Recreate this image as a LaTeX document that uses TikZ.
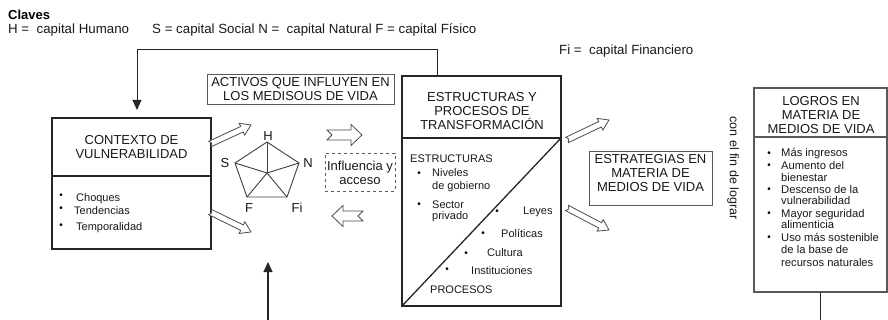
\documentclass[tikz,border=0pt]{standalone}
\usepackage{fontspec}
\setmainfont{Liberation Sans}
\usetikzlibrary{calc,arrows.meta}
\tikzset{
  box/.style={draw=black!85, line width=1.6pt, anchor=north west, inner sep=0pt, outer sep=0pt},
  thinbox/.style={draw=black!65, line width=0.9pt, anchor=north west, inner sep=0pt, outer sep=0pt},
  ttl/.style={font=\fontsize{13}{13.8}\selectfont, align=center, text=black!90, inner sep=0pt},
  key/.style={font=\fontsize{13.3}{14}\selectfont, anchor=base west, inner sep=0pt, text=black!90},
  sm/.style={font=\fontsize{11}{12}\selectfont, anchor=base west, inner sep=0pt, text=black!90},
  lst/.style={font=\fontsize{11.2}{12}\selectfont, anchor=base west, inner sep=0pt, text=black!90},
  bul/.style={font=\fontsize{10}{12}\selectfont, inner sep=0pt, text=black},
  conn/.style={draw=black!85, line width=1.2pt},
  blk/.style={draw=black!70, line width=0.8pt, fill=white, line join=miter},
  lbl/.style={font=\fontsize{13}{14}\selectfont, inner sep=0pt, text=black!90},
  pent/.style={draw=black!75, line width=0.9pt},
}
\newcommand\blockarr[7]{%
  \coordinate (#7n) at ($(#2)!#5pt!(#1)$);
  \draw[blk] ($(#1)!#3pt!90:(#2)$) -- ($(#7n)!#3pt!-90:(#1)$) -- ($(#7n)!#4pt!-90:(#1)$) -- (#2)
    -- ($(#7n)!#4pt!90:(#1)$) -- ($(#7n)!#3pt!90:(#1)$) -- ($(#1)!#3pt!-90:(#2)$) -- ($(#1)!#6pt!(#2)$) -- cycle;
}
\begin{document}
\begin{tikzpicture}[x=1pt,y=-1pt]
\useasboundingbox (0,0) rectangle (888,320);
\fill[white] (0,0) rectangle (888,320);

% legend
\node[anchor=base west, font=\bfseries\fontsize{13}{14}\selectfont, inner sep=0pt] (claves) at (8,20) {Claves};
\node[key] (kH) at (8,34) {H =\ \ capital Humano};
\node[key] (kS) at (152,34) {S = capital Social N =\ \ capital Natural F = capital Físico};
\node[key] (kFi) at (559,55) {Fi =\ \ capital Financiero};

% boxes
\node[box, minimum width=159pt, minimum height=131pt] (ctx) at (52,118) {};
\draw[box] (52,176) -- (211,176);
\node[ttl] (ctxt) at (131.5,147) {CONTEXTO DE\\VULNERABILIDAD};

\node[thinbox, minimum width=187pt, minimum height=30pt] (act) at (207,74) {};
\node[ttl] (actt) at (300.5,89) {ACTIVOS QUE INFLUYEN EN\\LOS MEDISOUS DE VIDA};

\node[box, minimum width=159pt, minimum height=230pt] (estr) at (402,76) {};
\draw[box] (402,138) -- (561,138);
\draw[line width=1.3pt, black!85] (estr.south west) -- (561,138);
\node[ttl] (estrt) at (482,111) {ESTRUCTURAS Y\\PROCESOS DE\\TRANSFORMACIÓN};

\node[thinbox, dashed, minimum width=70pt, minimum height=38pt] (infl) at (325,153) {};
\node[ttl] (inflt) at (360,173) {Influencia y\\acceso};

\node[thinbox, minimum width=123pt, minimum height=54pt] (strat) at (589,151) {};
\node[ttl] (stratt) at (650.5,173) {ESTRATEGIAS EN\\MATERIA DE\\MEDIOS DE VIDA};

\node[thinbox, line width=1.1pt, minimum width=133pt, minimum height=204pt] (logros) at (754,88) {};
\draw[thinbox, line width=1.1pt] (754,137) -- (887,137);
\node[ttl] (logrost) at (821,115) {LOGROS EN\\MATERIA DE\\MEDIOS DE VIDA};

\node[font=\fontsize{12.5}{14}\selectfont, rotate=-90, inner sep=0pt, text=black!90] (fin) at (733,168) {con el fin de lograr};

% contexto bullets
\node[bul] (cb1) at (61,196) {•}; \node[sm] (c1) at (76,202) {Choques};
\node[bul] (cb2) at (61,209) {•}; \node[sm] (c2) at (74,215) {Tendencias};
\node[bul] (cb3) at (61,226) {•}; \node[sm] (c3) at (76,231) {Temporalidad};

% estructuras contents
\node[sm] (e0) at (410,163) {ESTRUCTURAS};
\node[bul] (eb1) at (419,174) {•}; \node[sm] (e1) at (432,177) {Niveles};
\node[sm] (e2) at (432,190) {de gobierno};
\node[bul] (eb2) at (419,205) {•}; \node[sm] (e3) at (432,209) {Sector};
\node[sm] (e4) at (432,220) {privado};
\node[bul] (pb1) at (497,212) {•}; \node[sm] (p1) at (523,215) {Leyes};
\node[bul] (pb2) at (483,234) {•}; \node[sm] (p2) at (501,237) {Políticas};
\node[bul] (pb3) at (466,254) {•}; \node[sm] (p3) at (487,257) {Cultura};
\node[bul] (pb4) at (447,270) {•}; \node[sm] (p4) at (471,274) {Instituciones};
\node[sm] (p5) at (430,293) {PROCESOS};

% logros list
\foreach \t/\y [count=\i] in {Más ingresos/157, Aumento del/170, bienestar/182, Descenso de la/194, vulnerabilidad/205, Mayor seguridad/218, alimenticia/229, Uso más sostenible/242, de la base de/254, recursos naturales/266}
  \node[lst] (lg\i) at (781,\y) {\t};
\foreach \y [count=\i] in {154,166,190,214,238}
  \node[bul] (lb\i) at (769,\y) {•};

% pentagon
\coordinate (pH) at (267,142);
\coordinate (pN) at (299,163);
\coordinate (pFi) at (287,197);
\coordinate (pF) at (247,197);
\coordinate (pS) at (235,163);
\coordinate (pC) at (267,173);
\draw[pent] (pH) -- (pN) -- (pFi) -- (pF) -- (pS) -- cycle;
\foreach \v in {pH,pN,pFi,pF,pS} \draw[pent] (pC) -- (\v);
\node[lbl] (lH) at (268,136) {H};
\node[lbl] (lS) at (225,163) {S};
\node[lbl] (lN) at (308,163) {N};
\node[lbl] (lF) at (249,208) {F};
\node[lbl] (lFi) at (297,208) {Fi};

% block arrows
\coordinate (a1t) at (210,144); \coordinate (a1h) at (251,125);
\coordinate (a2t) at (210,212); \coordinate (a2h) at (251,232);
\coordinate (a3t) at (327,135); \coordinate (a3h) at (362,135);
\coordinate (a4t) at (363,216); \coordinate (a4h) at (332,216);
\coordinate (a5t) at (567,140); \coordinate (a5h) at (609,120);
\coordinate (a6t) at (567,208); \coordinate (a6h) at (609,230);
\blockarr{a1t}{a1h}{3}{6.5}{10}{2}{a1}
\blockarr{a2t}{a2h}{3}{6.5}{10}{2}{a2}
\blockarr{a3t}{a3h}{5}{10.5}{11}{5}{a3}
\blockarr{a4t}{a4h}{5}{10.5}{11}{5}{a4}
\blockarr{a5t}{a5h}{3}{6.5}{10}{2}{a5}
\blockarr{a6t}{a6h}{3}{6.5}{10}{2}{a6}

% feedback connectors
\draw[conn, line width=1pt, -{Triangle[length=10pt,width=9pt]}] ([xshift=35pt]estr.north west) -- ++(0,-26) -| ([xshift=5.5pt,yshift=8pt]ctx.north);
\coordinate (assetin) at (268,262);
\draw[conn, -{Triangle[length=10pt,width=9pt]}] (logros.south) -- ++(0,28.2) -| (assetin);
\end{tikzpicture}
\end{document}
